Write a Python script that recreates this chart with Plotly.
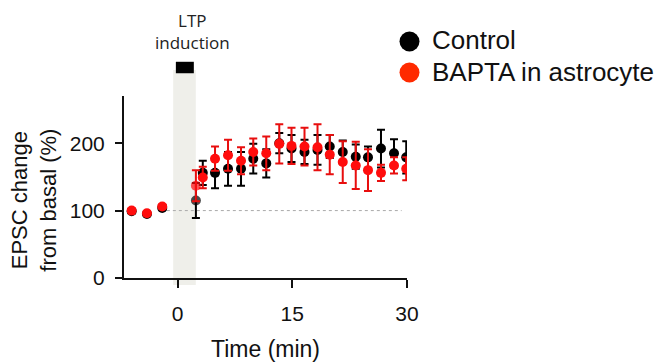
import plotly.graph_objects as go

# ---- data ----
time_pre = [-6, -4, -2]
control_pre = [99, 95, 104]
control_pre_err = [3, 3, 3]
bapta_pre = [100, 96, 106]
bapta_pre_err = [3, 3, 3]

time_post = [2.4, 3.3, 4.9, 6.6, 8.3, 9.9, 11.6, 13.3, 14.9, 16.6, 18.3, 19.9,
             21.6, 23.3, 24.9, 26.6, 28.3, 29.9]
control_post = [115, 156, 156, 162, 162, 177, 170, 200, 192, 187, 190, 195,
                187, 180, 179, 192, 185, 179]
control_post_err = [26, 18, 23, 25, 25, 22, 21, 15, 20, 18, 22, 17,
                    17, 18, 16, 28, 21, 24]
bapta_post = [137, 149, 177, 182, 174, 187, 185, 199, 196, 195, 194, 183,
              172, 167, 160, 156, 167, 162]
bapta_post_err = [23, 16, 18, 23, 20, 20, 25, 29, 27, 28, 34, 29,
                  31, 35, 31, 12, 12, 17]

x_ticks = [0, 15, 30]
y_ticks = [0, 100, 200]
series_names = ["Control", "BAPTA in astrocyte"]
induction_window = [-0.57, 2.39]
induction_bar = [-0.22, 2.13]
baseline_level = 100
baseline_span = [-1.4, 29.3]

BLACK = "#000000"
RED = "#ff0d0d"
RED_ERR = "#e80e0e"
RED_LEG = "#ff2a00"
FONT = "Liberation Sans, Arial, sans-serif"

time_all = time_pre + time_post
control_all = control_pre + control_post
control_err = control_pre_err + control_post_err
bapta_all = bapta_pre + bapta_post
bapta_err = bapta_pre_err + bapta_post_err
# first post-induction sample sits under the induction shading
opac = [1] * len(time_pre) + [0.7] + [1] * (len(time_post) - 1)

fig = go.Figure()
fig.add_trace(go.Scatter(
    x=time_all, y=control_all, mode="markers", name=series_names[0],
    marker=dict(color=BLACK, size=10, opacity=opac),
    error_y=dict(type="data", array=control_err, color=BLACK, thickness=2, width=4),
    showlegend=False))
fig.add_trace(go.Scatter(
    x=time_all, y=bapta_all, mode="markers", name=series_names[1],
    marker=dict(color=RED, size=10, opacity=opac),
    error_y=dict(type="data", array=bapta_err, color=RED_ERR, thickness=2, width=4),
    showlegend=False))

shapes = [
    dict(type="rect", xref="x", yref="paper", x0=induction_window[0], x1=induction_window[1],
         y0=-0.038, y1=1.143, fillcolor="#efefea", line=dict(width=0), layer="below"),
    dict(type="rect", xref="x", yref="paper", x0=induction_bar[0], x1=induction_bar[1],
         y0=1.125, y1=1.188, fillcolor="#000000", line=dict(width=0)),
    dict(type="line", xref="x", yref="y", x0=baseline_span[0], x1=baseline_span[1],
         y0=baseline_level, y1=baseline_level, line=dict(color="#aaaaaa", width=1, dash="dot"),
         layer="below"),
]
# legend markers
for i, (col, ypix) in enumerate([(BLACK, 41.5), (RED_LEG, 72.5)]):
    yp = (278 - ypix) / 182
    shapes.append(dict(type="circle", xref="paper", yref="paper",
                       xsizemode="pixel", ysizemode="pixel",
                       xanchor=(409.5 - 124) / 283, yanchor=yp,
                       x0=-10, x1=10, y0=-10, y1=10,
                       fillcolor=col, line=dict(width=0)))

annotations = [
    dict(text="LTP<br>induction", x=2.0, xref="x", y=1.354, yref="paper",
         showarrow=False, xanchor="center", yanchor="middle",
         font=dict(family="Open Sans", size=17, color="#222222")),
    dict(text="EPSC change<br>from basal (%)", textangle=-90, x=-0.318, xref="paper",
         y=0.425, yref="paper", showarrow=False, xanchor="center", yanchor="middle",
         font=dict(family=FONT, size=22, color="#111111")),
    dict(text="Time (min)", x=0.5, xref="paper", y=(278 - 349) / 182, yref="paper",
         showarrow=False, xanchor="center", yanchor="middle",
         font=dict(family=FONT, size=23, color="#111111")),
]
for name, ypix in zip(series_names, [40.5, 71.5]):
    annotations.append(dict(text=name, x=(430 - 124) / 283, xref="paper",
                            y=(278 - ypix) / 182, yref="paper", showarrow=False,
                            xanchor="left", yanchor="middle",
                            font=dict(family=FONT, size=26, color="#111111")))

fig.update_layout(
    width=661, height=363,
    margin=dict(l=124, r=254, t=96, b=85),
    paper_bgcolor="white", plot_bgcolor="white",
    shapes=shapes, annotations=annotations,
    font=dict(family=FONT, color="#111111"),
    xaxis=dict(range=[-7, 30], tickvals=x_ticks, showline=True, linecolor="#111111",
               linewidth=2, ticks="outside", ticklen=8, tickwidth=2, tickcolor="#111111",
               showgrid=False, zeroline=False, tickfont=dict(size=21), ticklabelstandoff=8),
    yaxis=dict(range=[0, 270], tickvals=y_ticks, showline=True, linecolor="#111111",
               linewidth=2, ticks="outside", ticklen=7, tickwidth=2, tickcolor="#111111",
               showgrid=False, zeroline=False, tickfont=dict(size=21), ticklabelstandoff=6),
)

fig.write_html("out.html", config={"displayModeBar": False},
               post_script="document.body.style.margin='0';")
